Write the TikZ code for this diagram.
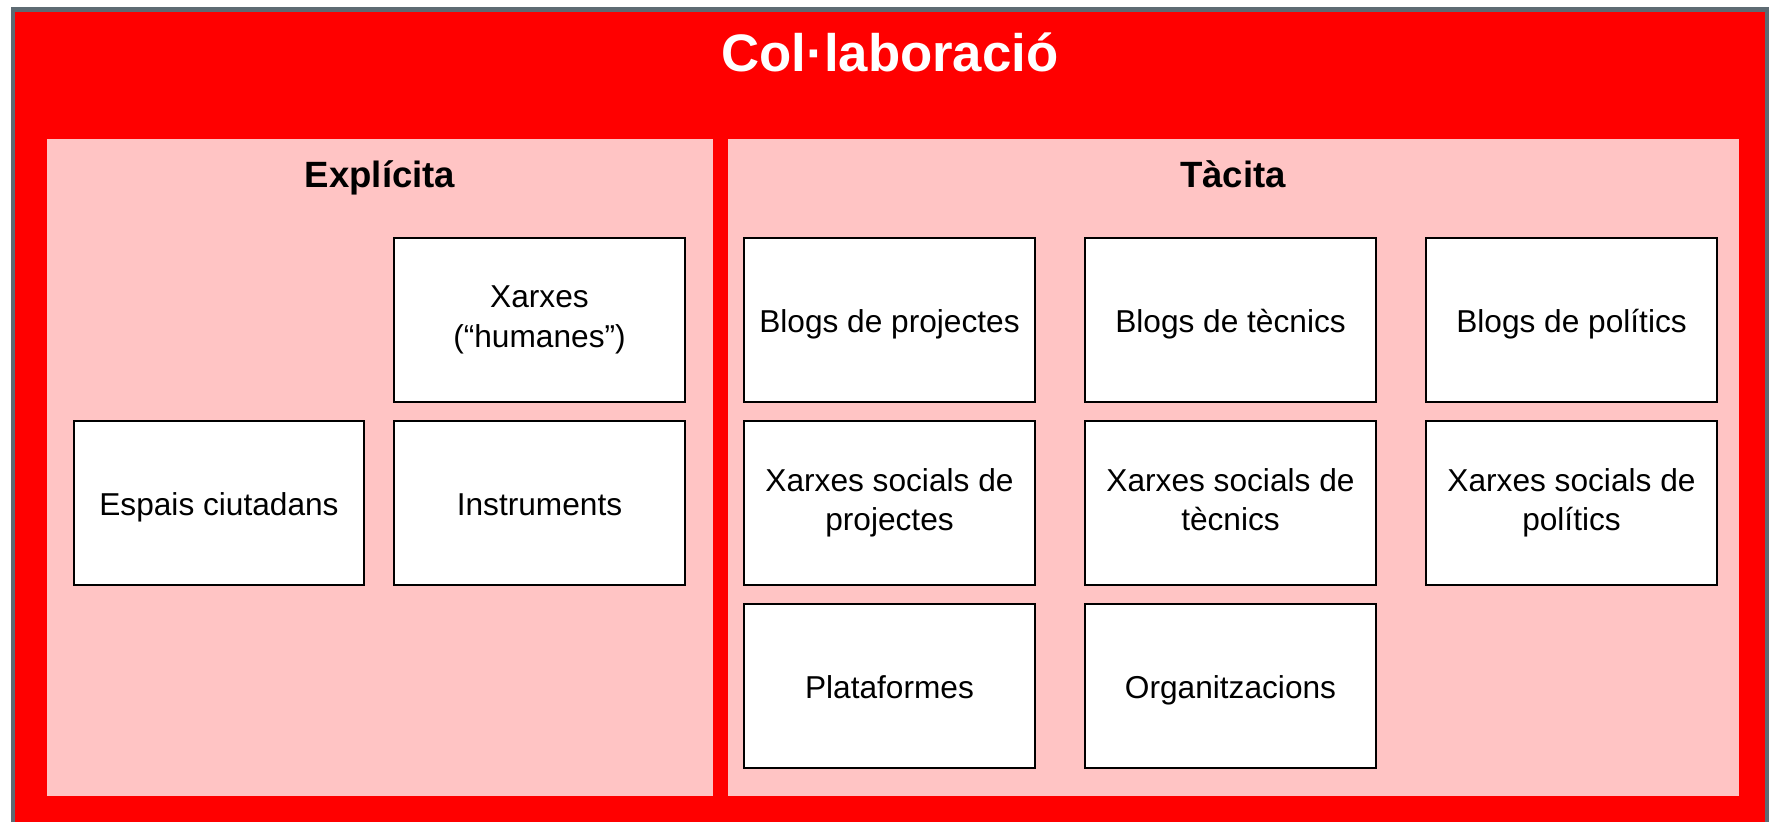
\documentclass[tikz,border=0pt]{standalone}
\usepackage{fontspec}
\setmainfont{Liberation Sans}
\usetikzlibrary{positioning}
\definecolor{outergray}{rgb}{0.37, 0.42, 0.45}
\definecolor{panelpink}{RGB}{255, 196, 196}
\newcommand\itemstrut{\rule[-2pt]{0pt}{11.3pt}}
\newcommand\tallstrut{\rule{0pt}{16pt}}

\tikzset{
  item/.style={draw=black, line width=0.6pt, fill=white, minimum width=2.9cm, minimum height=1.64cm,
               inner sep=1pt, align=center, font={\fontsize{9}{11.2}\selectfont},
               execute at begin node=\itemstrut, execute at end node=\itemstrut},
  twoline/.style={item, execute at begin node=\tallstrut},
  heading/.style={anchor=base, font={\fontsize{10.4}{12}\selectfont\bfseries}}
}

\begin{document}
\begin{tikzpicture}[x=0.01cm, y=-0.01cm]
  \useasboundingbox (0,0) rectangle (1771,822);
  % frame
  \draw[outergray, line width=1.4pt, fill=red] (13,9.5) rectangle (1767,840);
  \node[anchor=base, font={\fontsize{15}{18}\selectfont\bfseries}, text=white] (title) at (890,72) {Col·laboració};

  % panels
  \fill[panelpink] (47,139) rectangle (713,796);
  \fill[panelpink] (728,139) rectangle (1739,796);
  \node[heading] (expl) at (380,188) {Explícita};
  \node[heading] (taci) at (1233,188) {Tàcita};

  % explicita
  \node[item] (espais) at (219,503) {Espais ciutadans};
  \node[twoline] (xarxes) at (539.5,320) {Xarxes\\(“humanes”)};
  \node[item] (instr) at (539.5,503) {Instruments};

  % tacita
  \node[item] (blogproj) at (889.5,320) {Blogs de projectes};
  \node[item] (blogtec) at (1230.5,320) {Blogs de tècnics};
  \node[item] (blogpol) at (1571.5,320) {Blogs de polítics};
  \node[twoline] (socproj) at (889.5,503) {Xarxes socials de\\projectes};
  \node[twoline] (soctec) at (1230.5,503) {Xarxes socials de\\tècnics};
  \node[twoline] (socpol) at (1571.5,503) {Xarxes socials de\\polítics};
  \node[item] (plat) at (889.5,686) {Plataformes};
  \node[item] (org) at (1230.5,686) {Organitzacions};
\end{tikzpicture}
\end{document}
